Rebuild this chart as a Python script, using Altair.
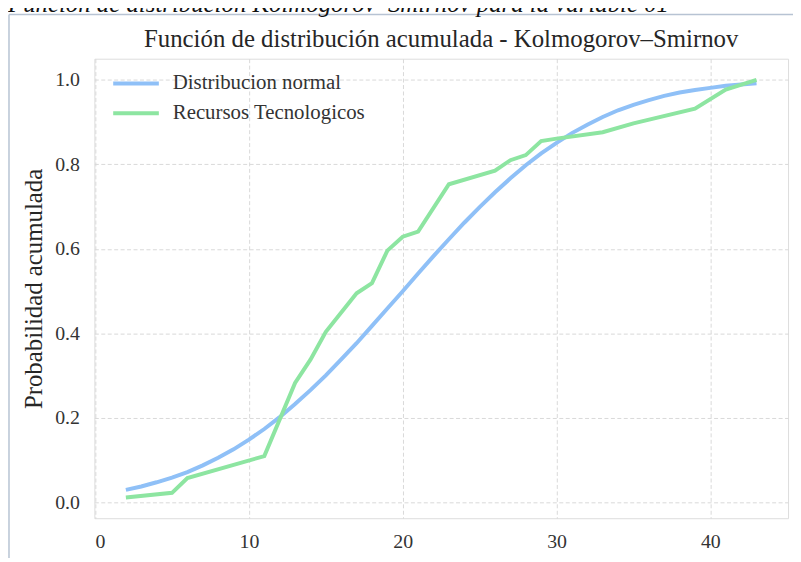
import altair as alt
import pandas as pd

# ---- data ----
normal_x = list(range(2, 44))
normal_y = [0.030, 0.038, 0.048, 0.059, 0.072, 0.088, 0.106, 0.126, 0.149, 0.174,
            0.202, 0.233, 0.266, 0.301, 0.339, 0.377, 0.418, 0.459, 0.500, 0.542,
            0.583, 0.623, 0.662, 0.699, 0.734, 0.767, 0.798, 0.826, 0.851, 0.874,
            0.894, 0.912, 0.928, 0.941, 0.952, 0.962, 0.970, 0.976, 0.981, 0.986,
            0.989, 0.992]

emp_x = [2, 5, 6, 11, 13, 14, 15, 17, 18, 19, 20, 21, 23, 26, 27, 28, 29, 30, 33, 35, 39, 41, 43]
emp_y = [0.012, 0.023, 0.058, 0.110, 0.283, 0.338, 0.404, 0.495, 0.519, 0.596, 0.629,
         0.641, 0.753, 0.785, 0.810, 0.822, 0.855, 0.861, 0.876, 0.897, 0.932, 0.977, 1.0]

series_names = ["Distribucion normal", "Recursos Tecnologicos"]
series_colors = ["#8fc0f7", "#8de5a1"]
x_ticks = [0, 10, 20, 30, 40]
y_ticks = [0.0, 0.2, 0.4, 0.6, 0.8, 1.0]

chart_title = "Función de distribución acumulada - Kolmogorov–Smirnov"
caption = "Función de distribución Kolmogorov–Smirnov para la variable 01"
y_title = "Probabilidad acumulada"

FONT = "Liberation Serif"
W, H = 699, 463

df_norm = pd.DataFrame({"x": normal_x, "y": normal_y, "serie": series_names[0]})
df_emp = pd.DataFrame({"x": emp_x, "y": emp_y, "serie": series_names[1]})

xs = alt.Scale(domain=[-0.05, 45.05], nice=False, zero=False)
ys = alt.Scale(domain=[-0.037, 1.05], nice=False, zero=False)
cs = alt.Scale(domain=series_names, range=series_colors)

legend = alt.Legend(
    orient="none", legendX=30, legendY=13, title=None,
    symbolType="M-2.3,0H2.3", symbolSize=400, symbolStrokeWidth=4,
    labelFont=FONT, labelFontSize=21, labelColor="#333333", labelLimit=0,
    labelOffset=25, rowPadding=8, padding=0,
)

xax = alt.Axis(values=x_ticks, title=None, domain=False, ticks=False, tickSize=0,
               labelFont=FONT, labelFontSize=20, labelColor="#333333", labelPadding=14,
               grid=True, gridDash=[4, 2.5], gridColor="#d9d9d9", gridWidth=1)
yax = alt.Axis(values=y_ticks, format=".1f", title=y_title, domain=False, ticks=False, tickSize=0,
               labelFont=FONT, labelFontSize=20, labelColor="#333333", labelPadding=15,
               titleFont=FONT, titleFontSize=25, titleFontWeight="normal", titleColor="#262626",
               titleAngle=270, titleX=-61, titleY=H / 2, titleBaseline="middle", titleAlign="center",
               grid=True, gridDash=[4, 2.5], gridColor="#d9d9d9", gridWidth=1)

line_norm = alt.Chart(df_norm).mark_line(strokeWidth=4).encode(
    x=alt.X("x:Q", scale=xs, axis=xax),
    y=alt.Y("y:Q", scale=ys, axis=yax),
    color=alt.Color("serie:N", scale=cs, legend=legend),
)
line_emp = alt.Chart(df_emp).mark_line(strokeWidth=4).encode(
    x=alt.X("x:Q", scale=xs),
    y=alt.Y("y:Q", scale=ys),
    color=alt.Color("serie:N", scale=cs, legend=legend),
)

one = pd.DataFrame({"t": [chart_title]})
title_mark = alt.Chart(one).mark_text(
    font=FONT, fontSize=25, color="#262626", align="center", baseline="alphabetic"
).encode(text="t:N", x=alt.value(W / 2), y=alt.value(-12))

cap = pd.DataFrame({"t": [caption]})
cap_mark = alt.Chart(cap).mark_text(
    font=FONT, fontSize=25, fontStyle="italic", color="#111111", align="left", baseline="alphabetic"
).encode(text="t:N", x=alt.value(-87), y=alt.value(-47))

border_df = pd.DataFrame({"k": [1]})
border_v = alt.Chart(border_df).mark_rule(color="#b7c3d3", strokeWidth=1.5).encode(
    x=alt.value(-86), y=alt.value(-44.5), y2=alt.value(H + 40))
border_h = alt.Chart(border_df).mark_rule(color="#b7c3d3", strokeWidth=1.5).encode(
    x=alt.value(-86), x2=alt.value(W + 10), y=alt.value(-44.5))

chart = alt.layer(border_v, border_h, cap_mark, title_mark, line_norm, line_emp).properties(
    width=W, height=H,
    autosize=alt.AutoSizeParams(type="none"),
    padding={"left": 87, "top": 49, "right": 5, "bottom": 40},
).configure_view(stroke="#cccccc", strokeWidth=1.5).configure(
    background="white"
).configure_axis(labelFont=FONT, titleFont=FONT).configure_legend(labelFont=FONT)

chart.save("out.html", embed_options={"renderer": "svg", "actions": False})
